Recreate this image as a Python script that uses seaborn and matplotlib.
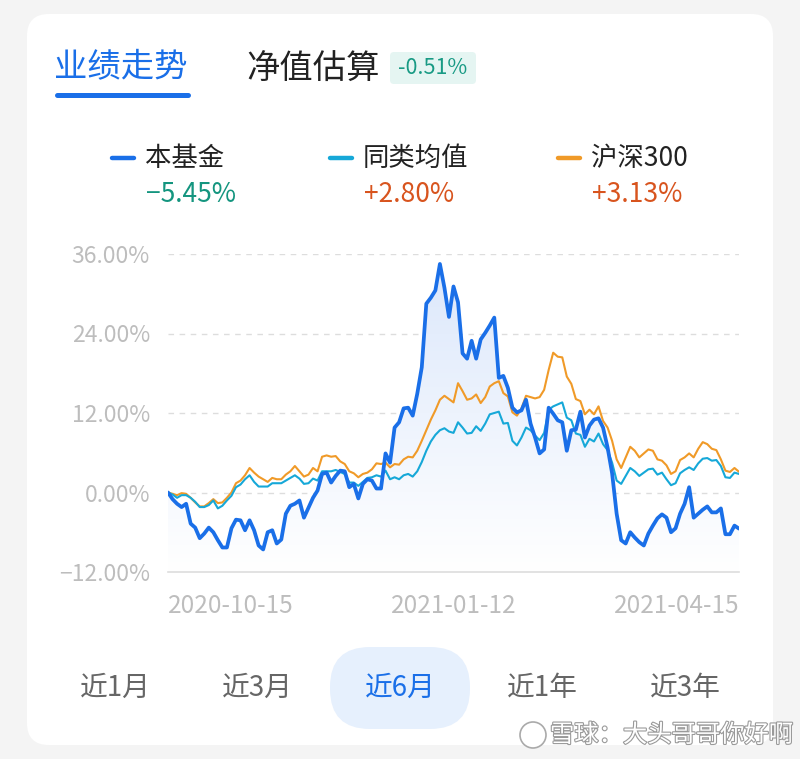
import numpy as np
import pandas as pd
import seaborn as sns
import matplotlib.pyplot as plt
import matplotlib.patheffects as pe
from matplotlib.patches import FancyBboxPatch, Circle
from matplotlib.colors import LinearSegmentedColormap

# cumulative return (%), one value per trading day
fund = [0, -1.0, -1.7, -2.2, -1.7, -4.7, -5.3, -6.9, -6.2, -5.3, -6.0, -7.2, -8.3, -8.3,
        -5.4, -4.1, -4.2, -5.7, -4.2, -5.7, -8.0, -8.6, -6.0, -5.7, -7.7, -7.1, -3.2, -2.0,
        -1.7, -1.2, -3.8, -2.3, -0.8, 0.3, 2.8, 3.0, 1.5, 2.5, 3.3, 3.2, 0.8, 1.3, -0.9, 1.3,
        2.0, 1.8, 0.6, 0.6, 5.9, 4.5, 9.8, 10.6, 12.7, 12.8, 11.6, 14.9, 18.9, 28.5, 29.4,
        30.5, 34.5, 30.9, 26.5, 31.1, 28.7, 21.0, 20.2, 22.9, 20.2, 23.1, 24.1, 25.2, 26.4,
        17.3, 17.6, 15.8, 12.8, 12.1, 12.4, 14.0, 10.4, 8.3, 5.9, 6.5, 12.8, 11.9, 10.9, 10.6,
        6.3, 9.4, 9.5, 12.2, 8.3, 10.1, 11.0, 11.2, 9.8, 6.8, 2.9, -3.2, -7.2, -7.7, -6.0,
        -6.8, -7.5, -8.0, -6.2, -5.0, -3.9, -3.3, -3.8, -6.0, -5.4, -3.2, -1.7, 0.8, -3.8,
        -3.2, -2.6, -2.1, -3.0, -3.0, -2.4, -6.3, -6.3, -5.0, -5.45]
peer = [0, -0.3, -0.8, -0.4, -0.4, -0.8, -1.4, -2.2, -2.2, -1.9, -1.2, -2.4, -2.0, -1.2,
        -0.5, 0.8, 1.2, 2.0, 2.6, 1.6, 0.9, 0.9, 0.9, 1.4, 1.4, 1.4, 1.8, 2.2, 2.6, 2.1, 1.3,
        1.4, 2.1, 1.8, 3.2, 3.2, 3.2, 3.4, 3.1, 2.8, 1.5, 1.5, 1.0, 1.6, 2.2, 2.3, 2.6, 2.4,
        3.3, 2.0, 2.3, 2.0, 2.6, 2.8, 2.4, 3.2, 4.6, 6.3, 7.7, 8.7, 9.4, 9.7, 9.2, 9.0, 10.6,
        9.8, 8.9, 9.0, 10.0, 9.3, 10.4, 11.8, 12.0, 12.2, 10.4, 10.5, 7.8, 7.1, 8.3, 9.8, 9.4,
        8.6, 7.9, 9.0, 12.5, 13.0, 13.3, 13.6, 11.3, 10.9, 8.9, 8.7, 6.9, 8.1, 7.7, 8.9, 7.3,
        6.4, 4.5, 1.8, 1.3, 2.5, 3.7, 3.2, 2.5, 3.0, 3.5, 3.6, 2.7, 3.0, 2.0, 1.1, 1.4, 2.9,
        3.4, 3.8, 3.4, 4.4, 5.1, 5.2, 4.8, 4.9, 4.0, 2.3, 2.2, 3.0, 2.80]
hs300 = [0, -0.2, -0.4, -0.1, -0.2, -0.8, -1.5, -2.1, -2.1, -1.6, -1.0, -1.6, -1.5, -0.8,
         0.0, 1.4, 1.8, 2.6, 3.7, 3.0, 2.4, 2.0, 1.6, 2.2, 2.0, 2.0, 2.7, 3.2, 4.0, 3.2, 2.4,
         2.7, 3.7, 3.2, 5.4, 5.6, 5.4, 5.5, 4.7, 4.3, 3.2, 2.9, 2.3, 2.8, 3.0, 3.5, 4.4, 4.3,
         4.5, 3.8, 4.3, 4.2, 5.0, 5.4, 5.3, 6.3, 7.8, 9.4, 11.0, 12.4, 14.0, 14.6, 14.1, 13.6,
         16.5, 15.3, 14.0, 14.2, 14.8, 13.5, 14.4, 16.0, 16.5, 16.8, 15.0, 14.5, 12.1, 11.6,
         12.7, 14.6, 14.4, 14.2, 14.4, 15.5, 18.5, 21.1, 20.5, 20.4, 17.5, 16.4, 14.1, 13.8,
         11.8, 12.5, 11.8, 13.0, 10.8, 9.8, 7.8, 5.0, 3.7, 5.3, 6.9, 6.3, 5.3, 5.9, 6.5, 6.3,
         5.0, 4.8, 4.1, 2.8, 3.2, 4.9, 5.3, 5.9, 5.3, 6.6, 7.6, 7.3, 6.6, 6.4, 5.0, 3.3, 3.1,
         3.7, 3.13]

series_names = ["本基金", "同类均值", "沪深300"]
series_returns = ["−5.45%", "+2.80%", "+3.13%"]
date_labels = ["2020-10-15", "2021-01-12", "2021-04-15"]
date_index = [0, 63, 126]
y_ticks = [-12, 0, 12, 24, 36]
periods = ["近1月", "近3月", "近6月", "近1年", "近3年"]

blue, cyan, orange = "#1a6fe8", "#16a8d8", "#f09a28"
colors = [blue, cyan, orange]
gray_txt = "#bdbdbd"

sns.set_style("white")
plt.rcParams["font.family"] = ["Noto Sans CJK SC", "DejaVu Sans"]

df = pd.DataFrame({"day": np.arange(len(fund)), "本基金": fund, "同类均值": peer, "沪深300": hs300})

fig = plt.figure(figsize=(8, 7.59), dpi=100)
fig.patch.set_facecolor("#f4f4f4")

# background layer in pixel coordinates
bg = fig.add_axes([0, 0, 1, 1], zorder=0)
bg.set_xlim(0, 800)
bg.set_ylim(759, 0)
bg.axis("off")
bg.add_patch(FancyBboxPatch((27, 14), 746, 731, boxstyle="round,pad=0,rounding_size=22",
                            fc="white", ec="none"))

# tabs
bg.text(54, 68, "业绩走势", color="#1a6fe8", fontsize=24, va="center", ha="left")
bg.plot([57, 188], [95, 95], color="#1a6fe8", lw=3.6, solid_capstyle="round")
bg.text(246, 68, "净值估算", color="#222222", fontsize=24, va="center", ha="left")
bg.add_patch(FancyBboxPatch((390, 52), 86, 32, boxstyle="round,pad=0,rounding_size=4",
                            fc="#e5f5f2", ec="none"))
bg.text(433, 68, "-0.51%", color="#189a84", fontsize=15.5, va="center", ha="center")

# legend block
leg_x = [112, 330, 558]
ret_colors = ["#14957f", "#d8541e", "#d8541e"]
for x0, name, ret, c, rc in zip(leg_x, series_names, series_returns, colors, ret_colors):
    bg.plot([x0, x0 + 22], [158, 158], color=c, lw=3.2, solid_capstyle="round")
    bg.text(x0 + 33, 158, name, fontsize=19, color="#222222", va="center", ha="left")
    bg.text(x0 + 34, 194, ret, fontsize=19, color=rc, va="center", ha="left")

# period buttons
bg.add_patch(FancyBboxPatch((330, 647), 140, 82, boxstyle="round,pad=0,rounding_size=40",
                            fc="#e6f0fd", ec="none"))
for i, p in enumerate(periods):
    cx = 115 + i * 142.5
    bg.text(cx, 688, p, fontsize=20, ha="center", va="center",
            color="#1a6fe8" if i == 2 else "#666666")

# watermark
bg.add_patch(Circle((533, 735), 13, fc="white", ec="#aaaaaa", lw=1.2))
bg.text(550, 735, "雪球：大头哥哥你好啊", fontsize=17.5, color="white", ha="left", va="center",
        path_effects=[pe.withStroke(linewidth=1.6, foreground="#9a9a9a")])

# chart
ax = fig.add_axes([168 / 800, 1 - 572 / 759, 571 / 800, 318 / 759], zorder=2)
ax.patch.set_alpha(0)

area = ax.fill_between(df["day"], df["本基金"], -12, color="none", lw=0)
grad = np.linspace(0, 1, 256).reshape(-1, 1)
cmap = LinearSegmentedColormap.from_list("fade", ["#ffffff", "#dbe7fb"])
im = ax.imshow(grad, extent=[0, len(fund) - 1, -12, 36], origin="lower", aspect="auto",
               cmap=cmap, zorder=1)
im.set_clip_path(area.get_paths()[0], transform=ax.transData)

sns.lineplot(data=df, x="day", y="沪深300", ax=ax, color=orange, lw=1.5, zorder=3)
sns.lineplot(data=df, x="day", y="同类均值", ax=ax, color=cyan, lw=1.5, zorder=4)
sns.lineplot(data=df, x="day", y="本基金", ax=ax, color=blue, lw=2.7, zorder=5)

ax.set_xlim(0, len(fund) - 1)
ax.set_ylim(-12, 36)
ax.set_xlabel("")
ax.set_ylabel("")

ax.set_yticks(y_ticks)
ax.set_yticklabels([f"{v:.2f}%".replace("-", "−") for v in y_ticks])
ax.tick_params(axis="y", length=0, pad=13, labelsize=16.5, labelcolor=gray_txt)
for v in y_ticks[1:]:
    ax.axhline(v, color="#dddddd", lw=1, ls=(0, (4, 4)), zorder=0)

ax.set_xticks(date_index)
ax.set_xticklabels(date_labels)
ax.set_xticks([0, len(fund) - 1], minor=True)
ax.tick_params(axis="x", which="major", length=0, pad=15, labelsize=17.5, labelcolor=gray_txt)
ax.tick_params(axis="x", which="minor", length=7, width=1.2, color="#dddddd", direction="out")
xl = ax.get_xticklabels()
xl[0].set_ha("left")
xl[2].set_ha("right")

for s in ["top", "left", "right"]:
    ax.spines[s].set_visible(False)
ax.spines["bottom"].set_color("#dddddd")
ax.spines["bottom"].set_linewidth(1.2)

plt.savefig("out.png", dpi=100)
